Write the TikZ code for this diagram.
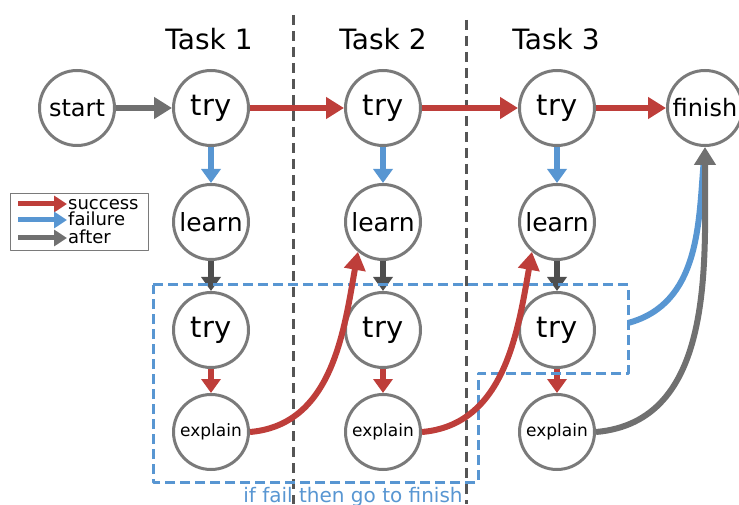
\documentclass[tikz,border=0pt]{standalone}
\usepackage{fontspec}
\setmainfont{DejaVu Sans}
\usetikzlibrary{arrows.meta}
\definecolor{succred}{RGB}{190,62,58}
\definecolor{failblue}{RGB}{88,150,210}
\definecolor{aftergray}{RGB}{112,112,112}
\definecolor{deepgray}{RGB}{78,78,78}
\definecolor{ringgray}{RGB}{122,122,122}
\definecolor{sepgray}{RGB}{85,85,85}
\newcommand{\fsz}[1]{\fontsize{#1}{#1}\selectfont}
\begin{document}
\begin{tikzpicture}[x=1pt,y=1pt,line join=round,
  state/.style={circle,draw=ringgray,line width=3pt,fill=white,minimum size=75pt,inner sep=0pt,font=\fsz{24}},
  flowline/.style={line width=6pt},
  flow/.style={flowline,-{Triangle[length=18pt,width=21pt]}},
  short/.style={-{Triangle[length=14pt,width=19pt]}},
  legflow/.style={line width=5pt,-{Triangle[length=13pt,width=16pt]}},
  succ/.style={flow,succred},
  fail/.style={flow,failblue},
  after/.style={flow,aftergray},
  deep/.style={flow,deepgray},
  sep/.style={sepgray,line width=3pt,dash pattern=on 10pt off 6pt},
  legtext/.style={anchor=base west,inner sep=0pt,font=\fsz{18}}]
	\useasboundingbox (0,0) rectangle (739,504);
	% task separators and titles
	\draw[sep] (293,489)--(293,0);
	\draw[sep] (466,484)--(466,0);
	\node[font=\fsz{28}] (task1) at (209,465) {Task 1};
	\node[font=\fsz{28}] (task2) at (383,465) {Task 2};
	\node[font=\fsz{28}] (task3) at (556,465) {Task 3};
	% states
	\node[state] (start) at (77,396) {start};
	\foreach \i/\x in {1/211,2/383,3/557}{
		\node[state,font=\fsz{29}] (tryA\i) at (\x,396) {try};
		\node[state,font=\fsz{25}] (learn\i) at (\x,282) {learn};
		\node[state,font=\fsz{29}] (tryB\i) at (\x,174) {try};
		\node[state,font=\fsz{17}] (explain\i) at (\x,72) {explain};
	}
	\node[state] (finish) at (705,396) {finish};
	% main line
	\draw[after] (start)--(tryA1);
	\draw[succ] (tryA1)--(tryA2);
	\draw[succ] (tryA2)--(tryA3);
	\draw[succ] (tryA3)--(finish);
	\foreach \i in {1,2,3}{
		\draw[fail,short] (tryA\i)--(learn\i);
		\draw[deep,short] (learn\i)--(tryB\i);
		\draw[succ,short] (tryB\i)--(explain\i);
	}
	% failure region
	\draw[failblue,line width=3pt,dash pattern=on 10pt off 5pt]
		(153,219)--(628,219)--(628,131)--(478,131)--(478,22)--(153,22)--cycle;
	\coordinate (failout) at (628,181);
	\node[anchor=base,inner sep=0pt,font=\fsz{20},text=failblue] (failnote) at (353,2) {if fail then go to finish};
	% jumps
	\draw[succ] (explain1.east) to[out=5,in=-100] (learn2.230);
	\draw[succ] (explain2.east) to[out=5,in=-100] (learn3.230);
	\draw[flowline,failblue,shorten >=14pt] (failout) to[out=15,in=-95] (finish.south);
	\draw[after] (explain3.east) to[out=5,in=-90] (finish.south);
	% legend
	\node[draw=ringgray,line width=0.8pt,minimum width=138pt,minimum height=57pt] (legend) at (79,282.5) {};
	\draw[legflow,succred] (18,300)--(67,300);
	\draw[legflow,failblue] (18,284)--(67,284);
	\draw[legflow,aftergray] (18,266)--(67,266);
	\node[legtext] (legsucc) at (68,294) {success};
	\node[legtext] (legfail) at (68,278) {failure};
	\node[legtext] (legafter) at (68,260) {after};
\end{tikzpicture}
\end{document}
